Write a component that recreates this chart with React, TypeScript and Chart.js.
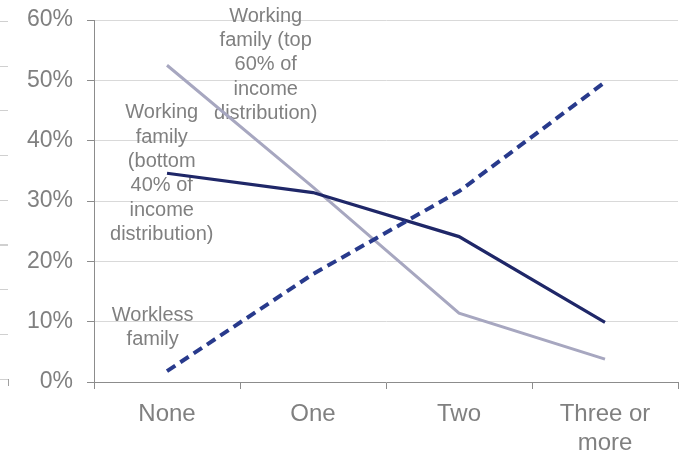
import React, { useEffect, useRef } from "react";
import { Chart, registerables } from "chart.js";

Chart.register(...registerables);

const categories: (string | string[])[] = ["None", "One", "Two", ["Three or", "more"]];
const workless = [1.8, 17.9, 31.6, 49.7];
const workingBottom40 = [34.6, 31.4, 24.1, 9.9];
const workingTop60 = [52.5, 32.3, 11.4, 3.8];
const yTicks = [0, 10, 20, 30, 40, 50, 60];

const seriesLabels = [
  "Workless family",
  "Working family (bottom 40% of income distribution)",
  "Working family (top 60% of income distribution)",
];

// text annotations: lines, anchored at (category index, value)
const annotationLines = [
  ["Working", "family (top", "60% of", "income", "distribution)"],
  ["Working", "family", "(bottom", "40% of", "income", "distribution)"],
  ["Workless", "family"],
];
const annotationAnchors = [
  { xIndex: 0.676, yValue: 60.6 },
  { xIndex: -0.036, yValue: 44.6 },
  { xIndex: -0.098, yValue: 11.1 },
];

const GREY_TEXT = "#808080";
const AXIS = "#8c8c8c";
const GRID = "#d9d9d9";
const FONT = "'Liberation Sans', Arial, sans-serif";

const annotationPlugin = {
  id: "textAnnotations",
  beforeDatasetsDraw(chart: any) {
    const { ctx, scales } = chart;
    const xs = scales.x;
    const ys = scales.y;
    const step = xs.getPixelForValue(1) - xs.getPixelForValue(0);
    ctx.save();
    ctx.fillStyle = GREY_TEXT;
    ctx.font = `20px ${FONT}`;
    ctx.textAlign = "center";
    ctx.textBaseline = "middle";
    annotationLines.forEach((lines, i) => {
      const a = annotationAnchors[i];
      const x = xs.getPixelForValue(0) + a.xIndex * step;
      const y0 = ys.getPixelForValue(a.yValue);
      lines.forEach((t, j) => ctx.fillText(t, x, y0 + j * 24.3));
    });
    ctx.restore();
  },
};

export default function App() {
  const ref = useRef<HTMLCanvasElement | null>(null);
  useEffect(() => {
    if (!ref.current) return;
    const chart = new Chart(ref.current, {
      type: "line",
      data: {
        labels: categories as any,
        datasets: [
          {
            label: seriesLabels[0],
            data: workless,
            borderColor: "#283a8c",
            borderWidth: 4,
            borderDash: [10, 6],
            pointRadius: 0,
            tension: 0,
          },
          {
            label: seriesLabels[1],
            data: workingBottom40,
            borderColor: "#1f2768",
            borderWidth: 3.2,
            pointRadius: 0,
            tension: 0,
          },
          {
            label: seriesLabels[2],
            data: workingTop60,
            borderColor: "#a7a7c0",
            borderWidth: 3,
            pointRadius: 0,
            tension: 0,
          },
        ],
      },
      options: {
        responsive: false,
        animation: false,
        devicePixelRatio: 1,
        layout: { padding: { top: 20, right: 1, left: 0, bottom: 0 } },
        plugins: { legend: { display: false }, tooltip: { enabled: false } },
        scales: {
          x: {
            offset: true,
            grid: {
              display: true,
              offset: true,
              drawOnChartArea: false,
              drawTicks: true,
              tickLength: 7,
              color: AXIS,
            },
            border: { color: AXIS, width: 1 },
            ticks: {
              color: GREY_TEXT,
              font: { family: FONT, size: 24 },
              padding: 11,
              maxRotation: 0,
              autoSkip: false,
            },
            afterFit: (s: any) => {
              s.height = 73;
              s.paddingLeft = 0;
              s.paddingRight = 0;
            },
          },
          y: {
            min: 0,
            max: 60,
            afterBuildTicks: (s: any) => {
              s.ticks = yTicks.map((v) => ({ value: v }));
            },
            grid: {
              color: (c: any) => (c.tick && c.tick.value === 0 ? "rgba(0,0,0,0)" : GRID),
              tickColor: AXIS,
              tickLength: 7,
              lineWidth: 1,
            },
            border: { color: AXIS, width: 1 },
            ticks: {
              color: GREY_TEXT,
              font: { family: FONT, size: 23 },
              padding: 14,
              callback: (v: any) => `${v}%`,
            },
            afterFit: (s: any) => {
              s.width = 94;
              s.paddingTop = 0;
              s.paddingBottom = 0;
            },
          },
        },
      },
      plugins: [annotationPlugin],
    });
    return () => chart.destroy();
  }, []);
  return (
    <div style={{ position: "fixed", left: 0, top: 0, width: 679, height: 455, background: "#fff" }}>
      <canvas ref={ref} width={679} height={455} style={{ display: "block" }} />
      {/* cropped edge of a neighbouring panel */}
      <div
        style={{
          position: "absolute",
          left: 0,
          top: 21,
          width: 8,
          height: 359,
          backgroundImage: "repeating-linear-gradient(to bottom, #d0d0d0 0px, #d0d0d0 1px, transparent 1px, transparent 44.7px)",
        }}
      />
      <div style={{ position: "absolute", left: 8, top: 379, width: 1, height: 7, background: "#a0a0a0" }} />
    </div>
  );
}
